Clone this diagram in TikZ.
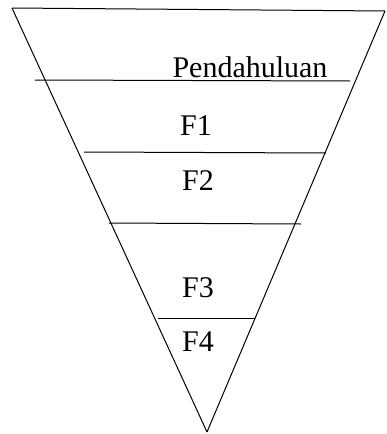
\documentclass[tikz,border=0pt]{standalone}
\usepackage{fontspec}
\setmainfont{Liberation Serif}
\usetikzlibrary{positioning}

\begin{document}
\begin{tikzpicture}[
        x=1pt, y=-1pt,
        edge/.style={line width=1pt},
        label/.style={font=\fontsize{30}{33}\selectfont, inner sep=0pt, anchor=base}
    ]
        \useasboundingbox (0,0) rectangle (387,434);

        % funnel
        \coordinate (tl) at (12,8);
        \coordinate (tr) at (385,11);
        \coordinate (apex) at (207,432);
        \draw[edge] (tl) -- (tr);
        \draw[edge] (tl) -- (apex);
        \draw[edge] (tr) -- (apex);

        % dividers
        \draw[edge] (35,80) -- (350,81);
        \draw[edge] (84,152) -- (326,153);
        \draw[edge] (109,223) -- (301,224);
        \draw[edge] (158,318) -- (255,318);

        % labels
        \node[label] (intro) at (250,77) {Pendahuluan};
        \node[label] (f1) at (196,135) {F1};
        \node[label] (f2) at (198,190) {F2};
        \node[label] (f3) at (198,297) {F3};
        \node[label] (f4) at (198,351) {F4};
    \end{tikzpicture}
\end{document}
